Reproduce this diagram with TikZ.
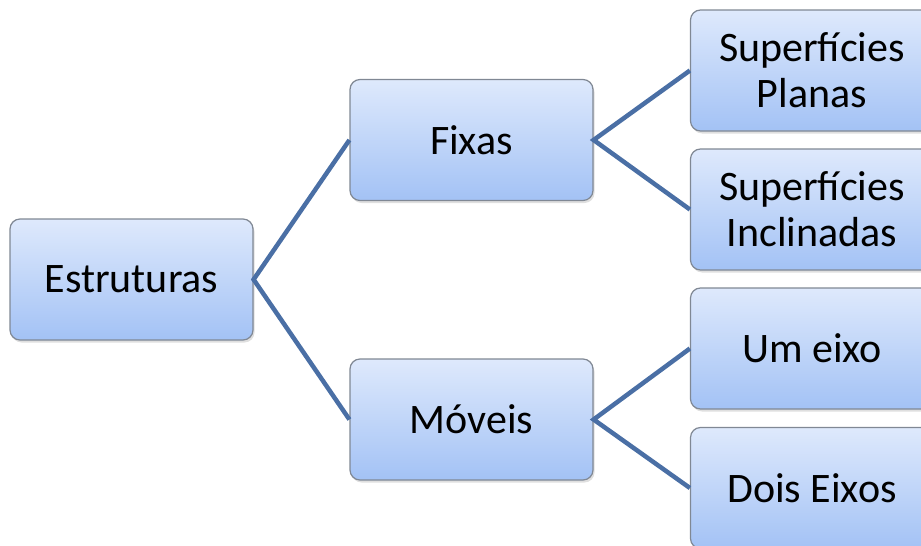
\documentclass[tikz,border=0pt]{standalone}
\usepackage{fontspec}
\setmainfont{Carlito}
\usetikzlibrary{shadows}
\definecolor{boxtop}{RGB}{222,233,252}
\definecolor{boxbot}{RGB}{163,194,245}
\definecolor{boxline}{RGB}{128,136,148}
\definecolor{linkblue}{RGB}{74,111,165}
\begin{document}
\begin{tikzpicture}[x=1pt,y=-1pt,
    box/.style={draw=boxline,line width=1.2pt,rounded corners=10pt,
                top color=boxtop,bottom color=boxbot,
                minimum width=243pt,minimum height=121pt,inner sep=0pt,
                align=center,font=\fontsize{42}{46}\selectfont,
                drop shadow={opacity=0.25,shadow xshift=1.5pt,shadow yshift=-2.5pt}},
    link/.style={draw=linkblue,line width=4.5pt}]
  \clip (0,0) rectangle (921,546);
  \node[box] (est)   at (131.5,279.5) {Estruturas};
  \node[box] (fix)   at (471.5,140)   {Fixas};
  \node[box] (mov)   at (471.5,419.5) {Móveis};
  \node[box] (plan)  at (812,70.5)    {Superfícies\\Planas};
  \node[box] (incl)  at (812,209.5)   {Superfícies\\Inclinadas};
  \node[box] (um)    at (812,348.5)   {Um eixo};
  \node[box] (dois)  at (812,488)     {Dois Eixos};
  \draw[link] (fix.west) -- (est.east) -- (mov.west);
  \draw[link] (plan.west) -- (fix.east) -- (incl.west);
  \draw[link] (um.west) -- (mov.east) -- (dois.west);
\end{tikzpicture}
\end{document}
